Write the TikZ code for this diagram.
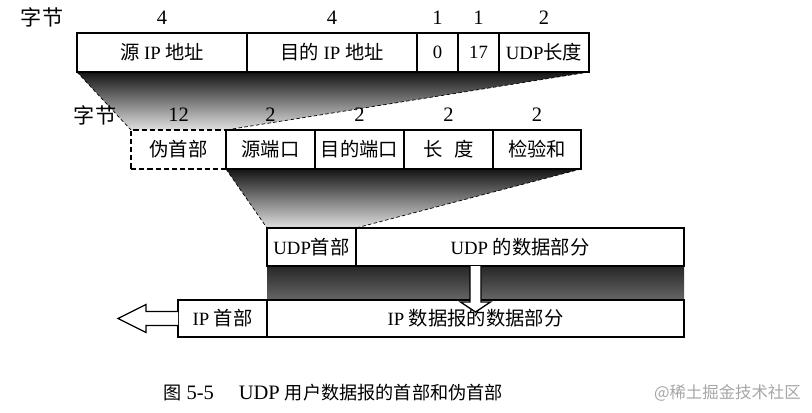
\documentclass[tikz,border=0pt]{standalone}
\usepackage{fontspec}
\setmainfont{Liberation Serif}
\newfontfamily\cjk[Scale=1.03]{Noto Sans CJK SC}
\newfontfamily\cjkplain{Noto Sans CJK SC}
\newcommand{\zh}[1]{{\cjk #1}}
\newcommand{\zhcap}[1]{{\cjkplain\fontsize{15.5}{18}\selectfont #1}}
\usetikzlibrary{positioning, calc, backgrounds}

\begin{document}
\begin{tikzpicture}[
        cell/.style={draw, fill=white, line width=1.1pt, minimum height=1.17cm, inner sep=0pt, outer sep=0pt, font=\fontsize{16}{18}\selectfont},
        pseudo/.style={cell, dash pattern=on 4.5pt off 2.5pt, line width=1.4pt},
        bytes/.style={inner sep=0pt, font=\fontsize{17.5}{19}\selectfont},
        fade/.style={top color=black!92, bottom color=black!12},
        edge/.style={densely dashed, line width=0.6pt},
        hollow/.style={draw, fill=white, line width=1.1pt}
    ]
        \useasboundingbox (0,0) rectangle (24.36,-12.39);

        % pseudo header
        \node (s1) [cell, minimum width=5.1cm, anchor=north west] at (2.31,-0.99) {\zh{源} IP \zh{地址}};
        \node (s2) [cell, minimum width=5.1cm, right=0pt of s1] {\zh{目的} IP \zh{地址}};
        \node (s3) [cell, minimum width=1.23cm, right=0pt of s2] {0};
        \node (s4) [cell, minimum width=1.23cm, right=0pt of s3] {17};
        \node (s5) [cell, minimum width=2.7cm, right=0pt of s4] {UDP\zh{长度}};

        % udp header
        \node (p1) [pseudo, minimum width=2.85cm, anchor=north west] at (3.93,-3.9) {\zh{伪首部}};
        \node (p2) [cell, minimum width=2.67cm, right=0pt of p1] {\zh{源端口}};
        \node (p3) [cell, minimum width=2.67cm, right=0pt of p2] {\zh{目的端口}};
        \node (p4) [cell, minimum width=2.67cm, right=0pt of p3] {\zh{长}\hspace{0.35cm}\zh{度}};
        \node (p5) [cell, minimum width=2.64cm, right=0pt of p4] {\zh{检验和}};

        % udp datagram
        \node (u1) [cell, minimum width=2.67cm, minimum height=1.14cm, anchor=north west] at (8.01,-6.84) {UDP\zh{首部}};
        \node (u2) [cell, minimum width=9.84cm, minimum height=1.14cm, right=0pt of u1] {UDP \zh{的数据部分}};

        % ip datagram
        \node (i1) [cell, minimum width=2.67cm, minimum height=1.11cm, anchor=north west] at (5.34,-9.0) {IP \zh{首部}};
        \node (i2) [cell, minimum width=12.51cm, minimum height=1.11cm, right=0pt of i1] {IP \zh{数据报的数据部分}};

        % byte counts
        \node (w1) [bytes] at (1.26,-0.51) {\zh{字节}};
        \node (b1) [bytes, above=0.25cm of s1] {4};
        \node (b2) [bytes, above=0.25cm of s2] {4};
        \node (b3) [bytes, above=0.25cm of s3] {1};
        \node (b4) [bytes, above=0.25cm of s4] {1};
        \node (b5) [bytes, above=0.25cm of s5] {2};
        \node (w2) [bytes] at (2.85,-3.45) {\zh{字节}};
        \node (c1) [bytes, above=0.25cm of p1] {12};
        \node (c2) [bytes, above=0.25cm of p2] {2};
        \node (c3) [bytes, above=0.25cm of p3] {2};
        \node (c4) [bytes, above=0.25cm of p4] {2};
        \node (c5) [bytes, above=0.25cm of p5] {2};

        \begin{scope}[on background layer]
            \shade [fade] (s1.south west) -- (s5.south east) -- (p1.north east) -- (p1.north west) -- cycle;
            \shade [fade] (p2.south west) -- (p5.south east) -- (u1.north east) -- (u1.north west) -- cycle;
            \shade [top color=black!85, bottom color=black!60] (u1.south west) rectangle (i2.north east);
        \end{scope}
        \draw [edge] (s1.south west) -- (p1.north west);
        \draw [edge] (s5.south east) -- (p1.north east);
        \draw [edge] (p2.south west) -- (u1.north west);
        \draw [edge] (p5.south east) -- (u1.north east);

        % arrows
        \draw [hollow] ($(i2.north |- u2.south)+(-0.165,0)$) -- ($(i2.north)+(-0.165,-0.06)$) -- ($(i2.north)+(-0.45,-0.06)$)
            -- ($(i2.north)+(0,-0.36)$) -- ($(i2.north)+(0.45,-0.06)$) -- ($(i2.north)+(0.165,-0.06)$) -- ($(i2.north |- u2.south)+(0.165,0)$);
        \draw [hollow] ($(i1.west)+(0,0.21)$) -- ++(-0.96,0) -- ++(0,0.21) -- ($(i1.west)+(-1.8,0)$)
            -- ($(i1.west)+(-0.96,-0.42)$) -- ++(0,0.21) -- ($(i1.west)+(0,-0.21)$);

        % caption
        \node (cap) [anchor=west, inner sep=0pt, font=\fontsize{17.5}{20}\selectfont] at (4.89,-11.79) {\zhcap{图} 5-5\hspace{0.75cm}UDP \zhcap{用户数据报的首部和伪首部}};
        \node (mark) [anchor=east, inner sep=0pt, text=black!35, font=\cjkplain\fontsize{14}{16}\selectfont] at (24.03,-11.79) {@稀土掘金技术社区};
    \end{tikzpicture}
\end{document}
